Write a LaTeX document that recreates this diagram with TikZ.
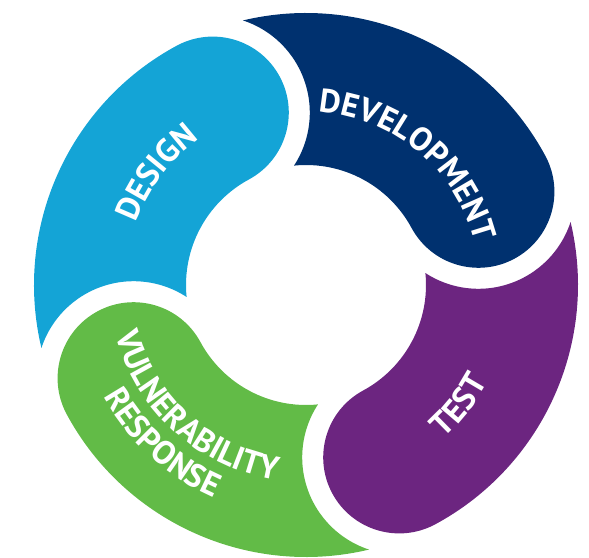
\documentclass[tikz,border=0pt]{standalone}
\usepackage{fontspec}
\usepackage{xcolor}
\usepackage{tikz}
\usetikzlibrary{decorations.text}
\newfontfamily\labelfont{PT Sans}
\definecolor{designblue}{HTML}{14A4D6}
\definecolor{devnavy}{HTML}{00316F}
\definecolor{testpurple}{HTML}{6C2580}
\definecolor{vulngreen}{HTML}{62BB47}
\newcommand{\lbl}{\labelfont\bfseries\fontsize{33}{36}\selectfont}
% one piece of the ring: colour, angle of its round head
\newcommand{\ringpart}[2]{%
\fill[#1] ({#2+75}:272pt) arc[start angle=#2+75, end angle=#2, radius=272pt]
        arc[start angle=#2, end angle=#2-180, radius=76pt]
        arc[start angle=#2, end angle=#2+67.33, radius=120pt]
        arc[start angle=#2+298.47, end angle=#2+403.47, radius=97pt] -- cycle;}
\tikzset{segtext/.style={decorate, decoration={text along path, text align=center, text color=white, text={#1}}}}

\begin{document}
\begin{tikzpicture}
\useasboundingbox (-306pt,-272pt) rectangle (283pt,285pt);

\ringpart{devnavy}{28.4}
\ringpart{designblue}{118.4}
\ringpart{vulngreen}{208.4}
\ringpart{testpurple}{298.4}

\path[segtext={|\lbl|DEVELOPMENT}] (100:174pt) arc[start angle=100, end angle=0, radius=174pt];
\path[segtext={|\lbl|DESIGN}] (180:181pt) arc[start angle=180, end angle=106, radius=181pt];
\path[segtext={|\lbl|TEST}] (-80:206pt) arc[start angle=-80, end angle=4, radius=206pt];
\path[segtext={|\lbl|VULNERABILITY}] (180:197pt) arc[start angle=180, end angle=276, radius=197pt];
\path[segtext={|\lbl|RESPONSE}] (190:231.5pt) arc[start angle=190, end angle=265.4, radius=231.5pt];
\end{tikzpicture}
\end{document}
